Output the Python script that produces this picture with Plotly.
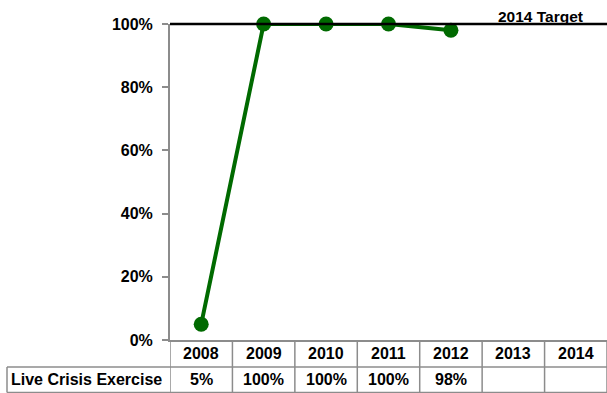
import plotly.graph_objects as go

years = ["2008", "2009", "2010", "2011", "2012", "2013", "2014"]
series_name = "Live Crisis Exercise"
values = [5, 100, 100, 100, 98, None, None]
value_labels = ["5%", "100%", "100%", "100%", "98%", "", ""]
target_value = 100
target_label = "2014 Target"
y_ticks = [0, 20, 40, 60, 80, 100]
y_range = [0, 100]

W, H = 607, 393
L, R, T, B = 170, 0, 24, 53
plot_w = W - L - R
plot_h = H - T - B

def py(px):  # pixel y (from top) -> paper y
    return (H - B - px) / plot_h

def px_(x):  # pixel x -> paper x
    return (x - L) / plot_w

font = dict(family="Liberation Sans, Arial, sans-serif", color="black")
green = "#006a00"
grid_gray = "#8c8c8c"
fs = 16

n = len(years)
xs = list(range(n))

fig = go.Figure()
fig.add_trace(go.Scatter(
    x=xs, y=values, mode="lines+markers",
    line=dict(color=green, width=4),
    marker=dict(color=green, size=15),
    connectgaps=False, showlegend=False, cliponaxis=False,
))

target_paper = (target_value - y_range[0]) / (y_range[1] - y_range[0])

shapes = []
shapes.append(dict(type="line", xref="paper", yref="paper", x0=0, x1=1,
                   y0=target_paper, y1=target_paper,
                   line=dict(color="black", width=2.5), layer="above"))
row1_bot = py(367)
row2_bot = py(392.5)
left_x = px_(7)
for i in range(n + 1):
    shapes.append(dict(type="line", xref="x", yref="paper", x0=i - 0.5, x1=i - 0.5,
                       y0=0, y1=row2_bot, line=dict(color=grid_gray, width=1.5)))
shapes.append(dict(type="line", xref="paper", yref="paper", x0=left_x, x1=1,
                   y0=row1_bot, y1=row1_bot, line=dict(color=grid_gray, width=1.5)))
shapes.append(dict(type="line", xref="paper", yref="paper", x0=left_x, x1=1,
                   y0=row2_bot, y1=row2_bot, line=dict(color=grid_gray, width=1.5)))
shapes.append(dict(type="line", xref="paper", yref="paper", x0=left_x, x1=left_x,
                   y0=row1_bot, y1=row2_bot, line=dict(color=grid_gray, width=1.5)))

annotations = []
for i, yr in enumerate(years):
    annotations.append(dict(x=xs[i], xref="x", y=(py(340) + row1_bot) / 2, yref="paper",
                            text="<b>%s</b>" % yr, showarrow=False,
                            font=dict(size=fs, **font), yanchor="middle"))
    if value_labels[i]:
        annotations.append(dict(x=xs[i], xref="x", y=(row1_bot + row2_bot) / 2, yref="paper",
                                text="<b>%s</b>" % value_labels[i], showarrow=False,
                                font=dict(size=fs, **font), yanchor="middle"))
annotations.append(dict(x=px_(9), xref="paper", y=(row1_bot + row2_bot) / 2, yref="paper",
                        text="<b>%s</b>" % series_name, showarrow=False, xanchor="left",
                        font=dict(size=fs, **font), yanchor="middle"))
annotations.append(dict(x=px_(585), xref="paper", y=target_paper, yref="paper",
                        text="<b>%s</b>" % target_label, showarrow=False, xanchor="right",
                        yanchor="bottom", yshift=-3, font=dict(size=15.5, **font)))

fig.update_layout(
    width=W, height=H, margin=dict(l=L, r=R, t=T, b=B, pad=0),
    paper_bgcolor="white", plot_bgcolor="white",
    xaxis=dict(range=[-0.5, n - 0.5], showticklabels=False,
               showgrid=False, zeroline=False, showline=True, linecolor=grid_gray,
               linewidth=1.5, ticks=""),
    yaxis=dict(range=y_range, tickvals=y_ticks,
               ticktext=["<b>%d%%</b>" % v for v in y_ticks],
               tickfont=dict(size=fs, **font), ticks="outside", ticklen=6,
               tickcolor=grid_gray, tickwidth=1.5, showgrid=False, zeroline=False,
               showline=True, linecolor=grid_gray, linewidth=2, ticklabelstandoff=6),
    shapes=shapes, annotations=annotations, showlegend=False,
)
fig.write_html("out.html", config={"displayModeBar": False},
               post_script="document.body.style.margin='0';document.body.style.overflow='hidden';")
